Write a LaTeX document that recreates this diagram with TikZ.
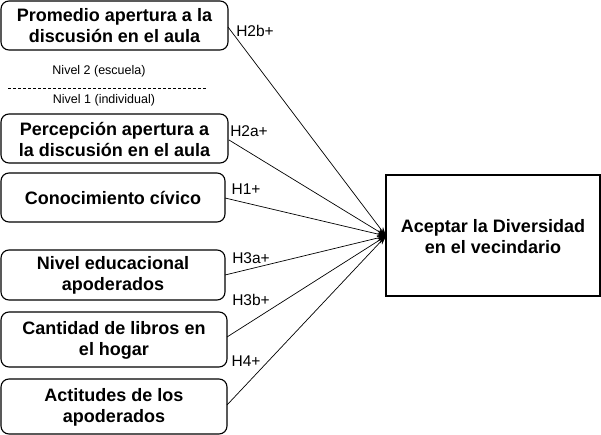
\documentclass[tikz,border=0pt]{standalone}
\usepackage{fontspec}
\setmainfont{Liberation Sans}
\usetikzlibrary{arrows.meta}
\begin{document}
\begin{tikzpicture}[x=1pt,y=-1pt,
  varbox/.style={draw, line width=1.1pt, rounded corners=8pt},
  boxtext/.style={font=\fontsize{18}{21}\selectfont\bfseries, align=center},
  hyp/.style={font=\fontsize{15.5}{17}\selectfont, inner sep=0pt},
  lvl/.style={font=\fontsize{12.5}{14}\selectfont, inner sep=0pt},
  conn/.style={line width=0.7pt, -{Stealth[length=9pt,width=6pt]}}]
\useasboundingbox (0,0) rectangle (601,435);
% boxes
\draw[varbox] (1,1) rectangle (228,50);
\node[boxtext] (b1) at (114.5,26) {Promedio apertura a la\\discusión en el aula};
\draw[varbox] (1,114) rectangle (228,163);
\node[boxtext] (b2) at (114.5,139) {Percepción apertura a\\la discusión en el aula};
\draw[varbox] (1,173) rectangle (225,222);
\node[boxtext] (b3) at (113,198) {Conocimiento cívico};
\draw[varbox] (1,250) rectangle (225,300);
\node[boxtext] (b4) at (113,275.5) {Nivel educacional\\apoderados};
\draw[varbox] (1,312) rectangle (227,367);
\node[boxtext] (b5) at (114,340) {Cantidad de libros en\\el hogar};
\draw[varbox] (1,379) rectangle (227,434);
\node[boxtext] (b6) at (114,407) {Actitudes de los\\apoderados};
\draw[line width=1.1pt] (386,175) rectangle (600,296);
\node[boxtext] (t) at (493,236.5) {Aceptar la Diversidad\\en el vecindario};
% anchors
\coordinate (s1) at (228,27);
\coordinate (s2) at (229,140);
\coordinate (s3) at (225,198);
\coordinate (s4) at (225,275);
\coordinate (s5) at (227,337);
\coordinate (s6) at (227,405);
\coordinate (tip) at (386,236);
\foreach \s in {s1,s2,s3,s4,s5,s6} \draw[conn] (\s) -- (tip);
% labels
\node[hyp] (h1) at (255,31) {H2b+};
\node[hyp] (h2) at (249,131) {H2a+};
\node[hyp] (h3) at (246,189) {H1+};
\node[hyp] (h4) at (251,258) {H3a+};
\node[hyp] (h5) at (251,300) {H3b+};
\node[hyp] (h6) at (246,361) {H4+};
% levels
\node[lvl] (n2) at (99,71) {Nivel 2 (escuela)};
\node[lvl] (n1) at (104,100) {Nivel 1 (individual)};
\coordinate (d1) at (8,88);
\coordinate (d2) at (207,88);
\draw[dashed, line width=0.6pt, dash pattern=on 3pt off 2pt] (d1) -- (d2);
\end{tikzpicture}
\end{document}
